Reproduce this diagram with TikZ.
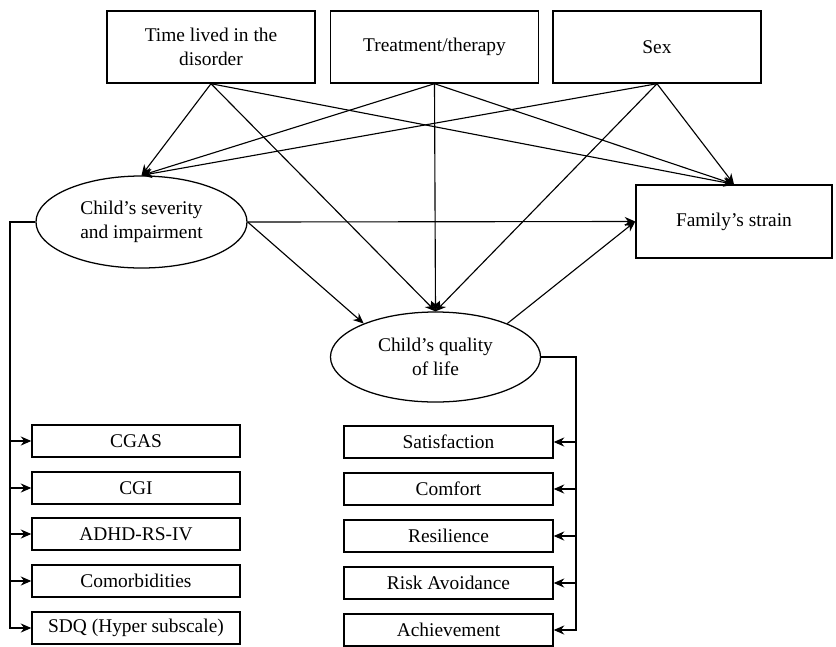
\documentclass[tikz,border=0pt]{standalone}
\usepackage{fontspec}
\setmainfont{Liberation Serif}
\usetikzlibrary{shapes.geometric, arrows.meta}

\begin{document}
\begin{tikzpicture}[x=0.025cm, y=-0.025cm, font=\fontsize{13.8}{17}\selectfont]
        \tikzstyle{proc} = [rectangle, minimum width=5.2cm, minimum height=1.8cm, text centered, align=center, draw=black, line width=1pt]
        \tikzstyle{proc1} = [ellipse, minimum width=5.25cm, minimum height=2.25cm, inner sep=0pt, align=center, draw=black, line width=0.9pt]
        \tikzstyle{meas} = [rectangle, minimum width=5.2cm, minimum height=0.8cm, inner sep=0pt, draw=black, line width=1pt]
        \tikzstyle{arrow} = [line width=0.8pt, -{Stealth[length=7.5pt, width=6.5pt]}]
        \useasboundingbox (0, 0) rectangle (836, 646);
		\node [proc] (t1) at (211, 47) {Time lived in the\\disorder};
		\node [proc] (t2) at (434.5, 47) {Treatment/therapy};
		\node [proc] (t3) at (657, 47) {Sex};
		\node [proc1, minimum width=5.275cm, minimum height=2.3cm] (c1) at (141.5, 222) {Child’s severity\\and impairment};
		\node [proc1] (c2) at (435.5, 357) {Child’s quality\\of life};
		\node [proc, minimum width=4.9cm, minimum height=1.825cm] (fs) at (734, 221.5) {Family’s strain};
		\node [meas] (m1) at (136, 441) {CGAS};
		\node [meas] (m2) at (136, 488) {CGI};
		\node [meas] (m3) at (136, 534) {ADHD-RS-IV};
		\node [meas] (m4) at (136, 581) {Comorbidities};
		\node [meas] (m5) at (136, 628) {SDQ (Hyper subscale)};
		\node [meas, minimum width=5.225cm] (q1) at (448.5, 442) {Satisfaction};
		\node [meas, minimum width=5.225cm] (q2) at (448.5, 489) {Comfort};
		\node [meas, minimum width=5.225cm] (q3) at (448.5, 536) {Resilience};
		\node [meas, minimum width=5.225cm] (q4) at (448.5, 583) {Risk Avoidance};
		\node [meas, minimum width=5.225cm] (q5) at (448.5, 630) {Achievement};
		\coordinate (b1) at (10, 222);
		\coordinate (b2) at (576, 357);
		\draw[arrow] (t1.south) -- (c1.north);
		\draw[arrow] (t1.south) -- (c2.north);
		\draw[arrow] (t1.south) -- (fs.north);
		\draw[arrow] (t2.south) -- (c1.north);
		\draw[arrow] (t2.south) -- (c2.north);
		\draw[arrow] (t2.south) -- (fs.north);
		\draw[arrow] (t3.south) -- (c1.north);
		\draw[arrow] (t3.south) -- (c2.north);
		\draw[arrow] (t3.south) -- (fs.north);
		\draw[arrow] (c1.east) -- (fs.west);
		\draw[arrow] (c1.east) -- (c2.155);
		\draw[arrow] (c2.25) -- (fs.west);
		\draw[arrow] (c1.west) -- (b1) |- (m1.west);
		\draw[arrow] (c1.west) -- (b1) |- (m2.west);
		\draw[arrow] (c1.west) -- (b1) |- (m3.west);
		\draw[arrow] (c1.west) -- (b1) |- (m4.west);
		\draw[arrow] (c1.west) -- (b1) |- (m5.west);
		\draw[arrow] (c2.east) -- (b2) |- (q1.east);
		\draw[arrow] (c2.east) -- (b2) |- (q2.east);
		\draw[arrow] (c2.east) -- (b2) |- (q3.east);
		\draw[arrow] (c2.east) -- (b2) |- (q4.east);
		\draw[arrow] (c2.east) -- (b2) |- (q5.east);
    \end{tikzpicture}
\end{document}
